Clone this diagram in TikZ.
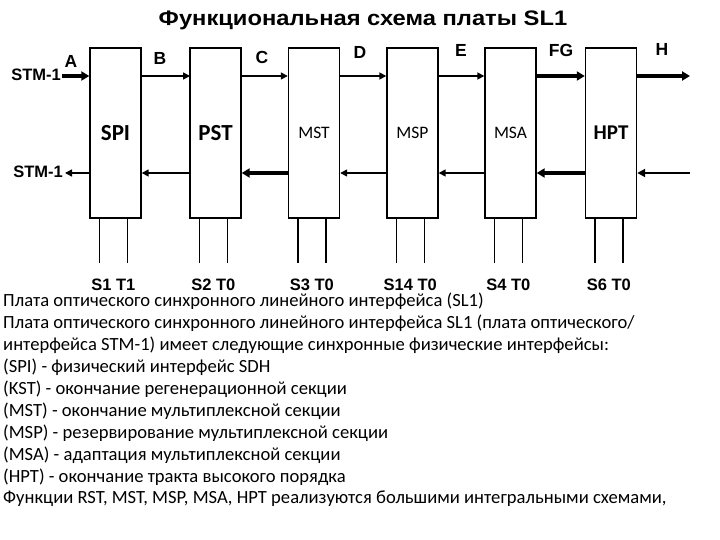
\documentclass[tikz,border=0pt]{standalone}
\usepackage{fontspec}
\setmainfont{Carlito}
\newfontfamily\arialf{Liberation Sans}
\usetikzlibrary{arrows.meta}
\begin{document}
\begin{tikzpicture}[x=1pt,y=-1pt,
  blk/.style={draw,line width=1.4pt,minimum width=51pt,minimum height=170pt,inner sep=0pt},
  arr/.style={line width=1.6pt,-{Triangle[length=7pt,width=7pt]}},
  tarr/.style={line width=3.6pt,-{Triangle[length=8pt,width=9pt]}},
  leg/.style={line width=1.4pt},
  lbl/.style={font=\arialf\bfseries\fontsize{17.5}{17.5}\selectfont,inner sep=0pt},
  slbl/.style={font=\arialf\bfseries\fontsize{16.5}{16.5}\selectfont,inner sep=0pt},
]
\useasboundingbox (0,0) rectangle (720,540);
\node[font=\arialf\bfseries\fontsize{21}{21}\selectfont,inner sep=0pt] (title) at (363,20) {\scalebox{1.13}[1]{Функциональная схема платы SL1}};

\node[blk,font=\bfseries\fontsize{23}{23}\selectfont] (spi) at (115.5,133) {SPI};
\node[blk,font=\bfseries\fontsize{23}{23}\selectfont] (pst) at (215.5,133) {PST};
\node[blk,font=\fontsize{17.5}{17.5}\selectfont] (mst) at (314,133) {MST};
\node[blk,font=\fontsize{17.5}{17.5}\selectfont] (msp) at (412.5,133) {MSP};
\node[blk,font=\fontsize{17.5}{17.5}\selectfont] (msa) at (510.5,133) {MSA};
\node[blk,font=\bfseries\fontsize{21}{21}\selectfont] (hpt) at (611,133) {HPT};

\coordinate (inA) at (62,76);
\coordinate (outH) at (690,76);
\coordinate (outS) at (65,173);
\coordinate (inR) at (690,173);
\node[slbl,anchor=east] (stmin) at (61,75) {STM-1};
\node[slbl,anchor=east] (stmout) at (63,172) {STM-1};

% top path
\draw[tarr] (inA) -- (spi.west |- inA);
\draw[arr] (141,76) -- (190,76);
\draw[arr,black!98] (pst.east |- inA) -- (mst.west |- inA);
\draw[arr,black!98] (mst.east |- inA) to (msp.west |- inA);
\draw[arr] (msp.east |- inA) -- (msa.west |- inA);
\draw[tarr] (msa.east |- inA) -- (hpt.west |- inA);
\draw[tarr] (hpt.east |- inA) -- (outH);

% bottom path
\draw[arr] (spi.west |- inR) -- (outS);
\draw[arr] (pst.west |- inR) -- (spi.east |- inR);
\draw[tarr] (mst.west |- inR) -- (pst.east |- inR);
\draw[arr] (msp.west |- inR) -- (mst.east |- inR);
\draw[arr] (msa.west |- inR) -- (msp.east |- inR);
\draw[tarr] (hpt.west |- inR) -- (msa.east |- inR);
\draw[line width=2.6pt,-{Triangle[length=8pt,width=8pt]}] (inR) -- (hpt.east |- inR);

% labels
\node[lbl] (lA) at (71,61) {A};
\node[lbl] (lB) at (160,58) {B};
\node[lbl] (lC) at (262,57) {C};
\node[lbl] (lD) at (360,52) {D};
\node[lbl] (lE) at (461,50) {E};
\node[lbl] (lFG) at (561,50) {FG};
\node[lbl] (lH) at (662,49) {H};

% legs
\foreach \b/\t in {spi/S1 T1,pst/S2 T0,mst/S3 T0,msp/S14 T0,msa/S4 T0,hpt/S6 T0}{
  \draw[leg] ([xshift=10pt]\b.south west) -- ++(0,44);
  \draw[leg] ([xshift=38pt]\b.south west) -- ++(0,44);
  \node[slbl] (\b-sig) at ([xshift=24pt,yshift=-66pt]\b.south west) {\t};
}

\node[anchor=north west,align=left,inner sep=0pt,font=\fontsize{18.6}{21.9}\selectfont] (txt) at (3,293) {%
Плата оптического синхронного линейного интерфейса (SL1)\\
Плата оптического синхронного линейного интерфейса SL1 (плата оптического/\\
интерфейса STM-1) имеет следующие синхронные физические интерфейсы:\\
(SPI) - физический интерфейс SDH\\
(KST) - окончание регенерационной секции\\
(MST) - окончание мультиплексной секции\\
(MSP) - резервирование мультиплексной секции\\
(MSA) - адаптация мультиплексной секции\\
(HPT) - окончание тракта высокого порядка\\
Функции RST, MST, MSP, MSA, HPT реализуются большими интегральными схемами,};
\end{tikzpicture}
\end{document}
